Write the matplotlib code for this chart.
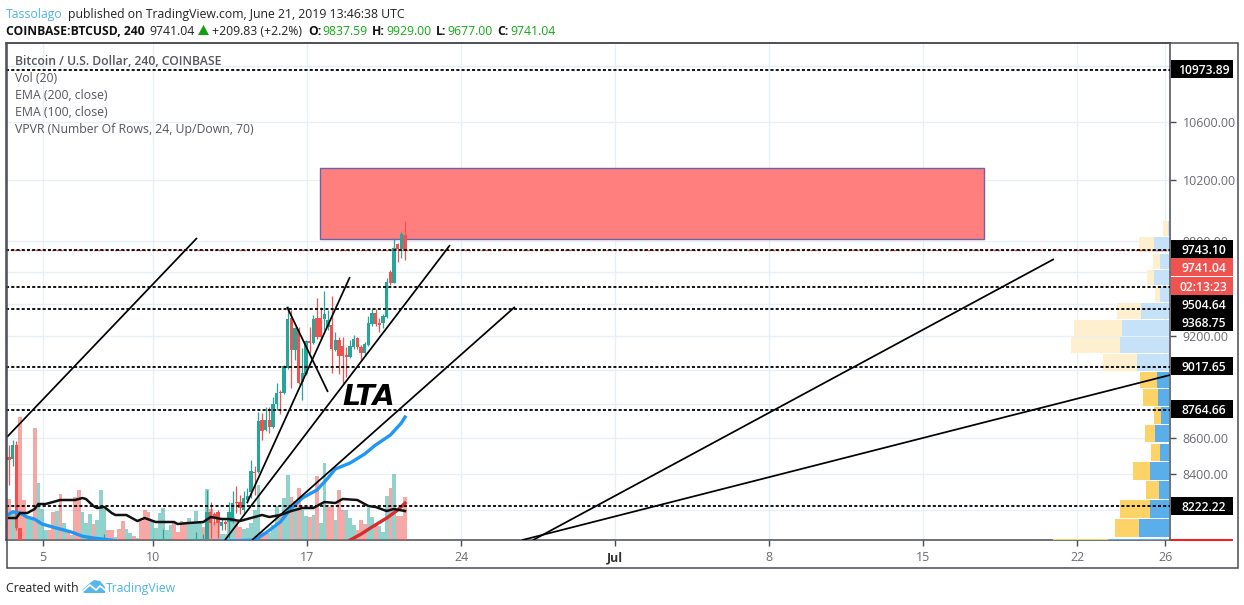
import matplotlib
matplotlib.use("Agg")
import matplotlib.pyplot as plt
from matplotlib.patches import Rectangle, Polygon
from matplotlib.ticker import NullLocator, FixedLocator, FixedFormatter

W, H = 1244, 605
plt.rcParams['font.family'] = ['Open Sans', 'DejaVu Sans']

# ---------- data ----------
first_day = 3.4545
bars_per_day = 6
volume = [41,27,27,123,40,23,22,112,57,31,10,10,28,29,46,17,8,5,43,50,28,17,26,16,20,50,31,10,10,3,
          11,19,11,7,4,2,19,30,28,20,12,27,32,10,15,17,8,19,18,22,17,29,17,13,51,31,18,17,6,6,
          28,23,20,13,11,12,17,30,55,8,7,7,15,34,27,42,65,43,39,52,30,24,23,25,64,17,77,33,33,20,
          50,30,30,22,15,10,20,16,32,23,15,14,8,44,52,66,24,24,43]
volume_dir = ("duddduuduu" "uddudududd" "uuuduuuddu" "dduududdd" "u"
              "uuuuuddddu" "uuududdduu" "uuddu" "uuuud"
              "duuuduudud" "uududuudd" "u" "dduuuddduu" "duuududdd")
vol_ma_idx = [0,2,3,5,7,8,10,11,14,18,20,21,23,24,26,28,29,32,35,37,40,42,45,46,49,53,55,58,60,63,65,69,71,74,77,80,83,86,89,91,95,98,100,103,105,108]
vol_ma     = [22,22,27,27,31,36,36,37,40,40,42,41,34,32,33,27,25,25,19,22,18,18,18,16,17,18,23,21,21,19,21,25,23,25,29,32,32,38,37,41,40,34,33,29,31,29]

ema100_idx = [0,1,3,5,7,9,13,17,20,23,28,33,67,70,74,77,80,84,87,89,93,97,100,104,107,108]
ema100     = [8180,8193,8186,8164,8153,8127,8105,8084,8062,8052,8041,8020,8041,8079,8138,8213,8268,8312,8378,8428,8461,8512,8563,8619,8688,8722]
ema200_idx = [93,96,99,103,106,108]
ema200     = [8041,8073,8111,8159,8202,8240]

candle_idx = [0,1,2,3,26,42,51,53,54,55,56,57,58,59,60,61,62,63,64,65,66,67,68,69,70,71,72,73,74,75,76,77,78,79,80,81,82,83,84,85,86,87,88,89,90,91,92,93,94,95,96,97,98,99,100,101,102,103,104,105,106,107,108]
candle_open  = [8495,8484,8562,8105,7990,7990,8000,8000,8036,8191,8180,8191,8116,8138,8138,8138,8246,8246,8202,8257,8301,8411,8411,8705,8648,8705,8665,8798,8868,8862,9010,9312,9117,9245,8927,8974,9172,9160,9312,9312,9306,9257,9270,9117,9178,9141,9087,9075,9135,9190,9135,9099,9147,9276,9343,9282,9282,9318,9600,9530,9779,9746,9837.59]
candle_high  = [8562,8591,8585,8105,8074,8100,8084,8074,8312,8246,8191,8202,8159,8148,8246,8306,8334,8285,8306,8323,8478,8445,8751,8746,8780,8780,8839,8921,8880,9028,9387,9362,9257,9257,9129,9178,9257,9331,9436,9380,9480,9362,9449,9227,9196,9196,9135,9178,9208,9196,9147,9166,9325,9368,9368,9312,9337,9562,9612,9818,9785,9857,9929]
candle_low   = [8339,8445,8095,7970,7970,7960,7980,7990,8014,8052,8121,8052,8095,8095,8052,8132,8186,8180,8175,8240,8268,8285,8406,8591,8642,8630,8659,8763,8740,8856,9004,8892,9055,8915,8821,8968,9099,9153,9184,9184,9239,9239,8980,9111,8974,8921,8956,9069,9123,9123,9057,9087,9141,9264,9264,9227,9251,9312,9517,9530,9663,9689,9677]
candle_close = [8478,8562,8105,7990,8010,8015,8020,8030,8191,8132,8159,8132,8138,8127,8191,8240,8240,8213,8268,8279,8417,8406,8699,8642,8705,8665,8798,8862,8862,9022,9306,9117,9251,8921,8980,9172,9160,9306,9196,9196,9337,9300,9123,9178,9081,9081,9075,9141,9184,9135,9099,9153,9282,9343,9276,9270,9325,9536,9530,9753,9746,9844,9741.04]

level_values = [10973.89, 9743.10, 9504.64, 9368.75, 9017.65, 8764.66, 8222.22]
last_price = 9741.04

trend_days   = [(3.364,12.0),(16.09,17.95),(14.27,18.95),(13.27,23.5),(14.5,26.45),(27.27,50.95),(26.77,56.23)]
trend_prices = [(8608,9818),(9381,8868),(8240,9568),(8041,9772),(8041,9381),(8041,9682),(8041,8968)]
zone_days   = (17.59, 47.77)
zone_prices = (9812, 10283)

vp_top, vp_step = 9933, 104.3
vp_up   = [1,15,9.3,15,9.3,28,47,49.7,32,12,11.7,8.3,14.3,9.7,19.7,10.3,19.3,30,61]
vp_down = [5,15.3,6.7,7.7,5,24.3,48,48.3,34.7,17.3,14.7,6.7,10.3,9,17,13.3,30,24.7,55.7]
vp_faded_rows = 9

price_ticks = [8200,8400,8600,8800,9000,9200,9400,9600,9800,10200,10600,11000]
price_tick_labels = ['','8400.00','8600.00','','','9200.00','','','9800.00','10200.00','10600.00','']
x_tick_days = [5,10,17,24,31,38,45,52,56]
x_tick_labels = ['5','10','17','24','Jul','8','15','22','26']

label_texts = ['10973.89','9743.10','9741.04','02:13:23','9504.64','9368.75','9017.65','8764.66','8222.22']
label_y     = [69,249,267,286,304,322,366,409,506]
label_bg    = ['k','k','#ef5350','#ef5350','k','k','k','k','k']

legend_texts = ['Bitcoin / U.S. Dollar, 240, COINBASE','Vol (20)','EMA (200, close)','EMA (100, close)','VPVR (Number Of Rows, 24, Up/Down, 70)']

# ---------- layout ----------
fig = plt.figure(figsize=(W/100, H/100), dpi=100, facecolor='white')
rect = [6/W, 1-540/H, (1170-6)/W, (540-43)/H]
xlim = (3.318, 56.227)
ylim = (8041.6, 11168)
GRID = '#e9f0f5'
TXT = '#6a6a72'
FRAME = '#4a4a55'

base = fig.add_axes(rect, zorder=1)
base.set_yscale('log')
base.set_xlim(xlim); base.set_ylim(ylim)
base.yaxis.tick_right()
base.yaxis.set_major_locator(FixedLocator(price_ticks))
base.yaxis.set_major_formatter(FixedFormatter(price_tick_labels))
base.yaxis.set_minor_locator(NullLocator())
base.yaxis.set_minor_formatter(FixedFormatter([]))
base.set_xticks(x_tick_days)
base.set_xticklabels(x_tick_labels)
base.tick_params(axis='both', length=4, width=1, color=FRAME, labelcolor=TXT, labelsize=8.9)
base.tick_params(axis='x', pad=4)
base.tick_params(axis='y', pad=5)
for lab, s in zip(base.get_xticklabels(), x_tick_labels):
    if s == 'Jul':
        lab.set_fontweight('bold')
        lab.set_color('#333333')
base.grid(True, color=GRID, lw=1)
base.set_axisbelow(True)
for s in base.spines.values():
    s.set_color(FRAME); s.set_linewidth(1.1)

vol = fig.add_axes(rect, zorder=2, sharex=base)
vol.set_ylim(0, 497)
vol.axis('off')
vdays = [first_day + i/bars_per_day for i in range(len(volume))]
vcol = ['#26a69a' if d == 'u' else '#ef5350' for d in volume_dir]
vol.bar(vdays, volume, width=3.67/22, color=vcol, alpha=0.5, linewidth=0, antialiased=False)

vp = fig.add_axes(rect, zorder=3, sharey=base)
vp.set_xlim(1164, 0)
vp.axis('off')
for i, (u, d) in enumerate(zip(vp_up, vp_down)):
    low = vp_top - (i+1)*vp_step
    faded = i < vp_faded_rows
    cu, cd = ('#c6e2f8', '#fef0cf') if faded else ('#5aaeea', '#fdd267')
    vp.barh(low, u, height=vp_step*0.93, left=0.7, align='edge', color=cu, linewidth=0)
    vp.barh(low, d, height=vp_step*0.93, left=0.7+u, align='edge', color=cd, linewidth=0)

main = fig.add_axes(rect, zorder=4, sharex=base, sharey=base)
main.axis('off')
main.add_patch(Rectangle((zone_days[0], zone_prices[0]), zone_days[1]-zone_days[0], zone_prices[1]-zone_prices[0],
                         facecolor='#ff7f7f', edgecolor='#6b62a8', lw=1, zorder=1))
for i, o, h, l, c in zip(candle_idx, candle_open, candle_high, candle_low, candle_close):
    d = first_day + i/bars_per_day
    col = '#26a69a' if c >= o else '#ef5350'
    main.vlines(d, l, h, color=col, lw=0.9, zorder=3)
    main.bar(d, abs(c-o), bottom=min(o, c), width=3.1/22, color=col, linewidth=0, zorder=3)
main.plot([first_day+i/bars_per_day for i in ema100_idx], ema100, color='#2196f3', lw=2.4, zorder=4)
main.plot([first_day+i/bars_per_day for i in ema200_idx], ema200, color='#d32f2f', lw=2.4, zorder=4)
vol_line = fig.add_axes(rect, zorder=4.5, sharex=base, sharey=vol)
vol_line.axis('off')
vol_line.plot([first_day+i/bars_per_day for i in vol_ma_idx], vol_ma, color='#111111', lw=1.8)
main.axhline(last_price, color='#ef5350', lw=1, ls=(0, (1.5, 1.5)), zorder=4)
for v in level_values:
    main.axhline(v, color='k', lw=1.3, ls=(0, (1.7, 1.2)), zorder=5)
for dd, pp in zip(trend_days, trend_prices):
    main.plot(dd, pp, color='k', lw=1.25, zorder=6, solid_capstyle='butt')
main.text(18.6, 8838, 'LTA', fontsize=20.5, fontweight='bold', style='italic', family='DejaVu Sans',
          color='k', ha='left', va='center', zorder=7)
main.set_xlim(xlim); main.set_ylim(ylim)

# ---------- overlay in pixels ----------
ov = fig.add_axes([0, 0, 1, 1], zorder=10)
ov.set_xlim(0, W); ov.set_ylim(H, 0); ov.axis('off')
ov.add_patch(Rectangle((6.5, 43), 1231, 525, fill=False, edgecolor=FRAME, lw=1.1))

for t, y, bg in zip(label_texts, label_y, label_bg):
    ov.add_patch(Rectangle((1170.5, y-8.7), 62, 17.4, facecolor=bg, edgecolor='none'))
    ov.text(1203.5, y, t, color='white', fontsize=8.7, fontweight='semibold', ha='center', va='center_baseline')
ov.add_patch(Rectangle((1170.5, 539), 62, 2.2, facecolor='#ff1a1a', edgecolor='none'))

def T(x, y, s, color='#222222', size=8.8, weight='normal'):
    return ov.text(x, y, s, color=color, fontsize=size, fontweight=weight, ha='left', va='center_baseline')

T(6, 13, 'Tassolago', '#4db4e8')
T(68, 13, 'published on TradingView.com, June 21, 2019 13:46:38 UTC')
T(6, 30, 'COINBASE:BTCUSD, 240', '#111111', 8.7, 'bold')
T(149, 30, '9741.04')
ov.add_patch(Polygon([(198, 35), (209, 35), (203.5, 25)], closed=True, facecolor='#12a012', edgecolor='none'))
T(212, 30, '+209.83 (+2.2%)')
G = '#14a814'
for x, s in [(308, 'O:'), (372, 'H:'), (436, 'L:'), (497, 'C:')]:
    T(x, 30, s, '#111111', 8.7, 'bold')
for x, s in [(322, '9837.59'), (386, '9929.00'), (447, '9677.00'), (510, '9741.04')]:
    T(x, 30, s, G)
for i, s in enumerate(legend_texts):
    T(15, 60+17*i, s, '#55555e', 8.85, 'semibold' if i == 0 else 'normal')
T(6, 587, 'Created with', '#222222', 8.8)
T(106, 587, 'TradingView', '#4db4e8', 8.8)
ov.add_patch(Polygon([(82, 590), (90, 583), (94, 580), (100, 581), (105, 587), (105, 593), (84, 593)],
                     closed=True, facecolor='#58b7ea', edgecolor='none'))
ov.plot([83, 90, 96, 100, 105], [591, 585, 590, 586, 590], color='white', lw=1.2)

assert len(volume) == len(volume_dir), (len(volume), len(volume_dir))
fig.savefig('out.png', dpi=100, facecolor='white')
